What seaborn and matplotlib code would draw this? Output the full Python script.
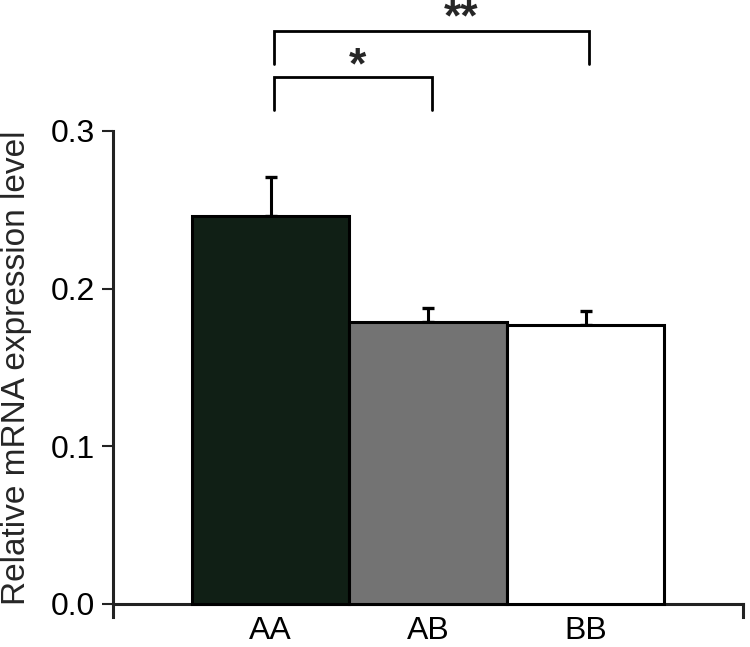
import matplotlib
matplotlib.use("Agg")
import matplotlib.pyplot as plt
import seaborn as sns
import numpy as np
import pandas as pd

categories = ["AA", "AB", "BB"]
values = [0.246, 0.179, 0.177]
errors = [0.025, 0.009, 0.0085]
bar_colors = ["#0e2114", "#737373", "#ffffff"]
yticks = [0.0, 0.1, 0.2, 0.3]
ytick_labels = ["0.0", "0.1", "0.2", "0.3"]
ylabel = "Relative mRNA expression level"
comparisons = [("AA", "AB", "*"), ("AA", "BB", "**")]

sns.set_style("ticks")
plt.rcParams["font.family"] = ["Liberation Sans", "DejaVu Sans"]

df = pd.DataFrame({"genotype": categories, "value": values})

fig = plt.figure(figsize=(7.5, 6.47), dpi=100)
ax = fig.add_axes([0.1507, 0.047, 0.84, 0.953])

sns.barplot(data=df, x="genotype", y="value", hue="genotype", palette=bar_colors,
            order=categories, hue_order=categories, width=1.0, edgecolor="black",
            linewidth=2.2, legend=False, ax=ax, zorder=3)

xpos = np.arange(len(categories))
ax.errorbar(xpos, values, yerr=[np.zeros(len(values)), errors], fmt="none",
            ecolor="black", elinewidth=2.2, capsize=4.3, capthick=2.4, zorder=2)

ax.set_xlim(-1.0, 3.0)
ax.set_ylim(-0.008, 0.383)

ax.set_yticks(yticks)
ax.set_yticklabels(ytick_labels)
ax.tick_params(axis="y", length=8, width=1.5, pad=5, labelsize=23, colors="#222222", labelcolor="black")
ax.tick_params(axis="x", length=0, pad=9, labelsize=23, labelcolor="black")

ax.spines["top"].set_visible(False)
ax.spines["right"].set_visible(True)
ax.spines["right"].set_bounds(-0.008, 0.0)
ax.spines["left"].set_bounds(-0.008, 0.3)
ax.spines["bottom"].set_position(("data", 0.0))
for s in ["left", "right", "bottom"]:
    ax.spines[s].set_linewidth(2.2)
    ax.spines[s].set_color("#222222")

ax.set_xlabel("")
ax.set_ylabel(ylabel, fontsize=24)
ax.yaxis.set_label_coords(-0.129, 0.404)

# significance brackets
levels = [(0.3344, 0.3133, 0.333, 0.553), (0.3635, 0.3422, 0.3635, 1.21)]
for (g1, g2, star), (ytop, ybot, ystar, xstar) in zip(comparisons, levels):
    x1 = categories.index(g1) + 0.025
    x2 = categories.index(g2) + 0.025
    ax.plot([x1, x1, x2, x2], [ybot, ytop, ytop, ybot], color="black", lw=2.0,
            clip_on=False, solid_joinstyle="miter")
    ax.text(xstar, ystar, star, ha="center", va="baseline", fontsize=32,
            fontweight="bold", clip_on=False)

fig.savefig("out.png", dpi=100)
